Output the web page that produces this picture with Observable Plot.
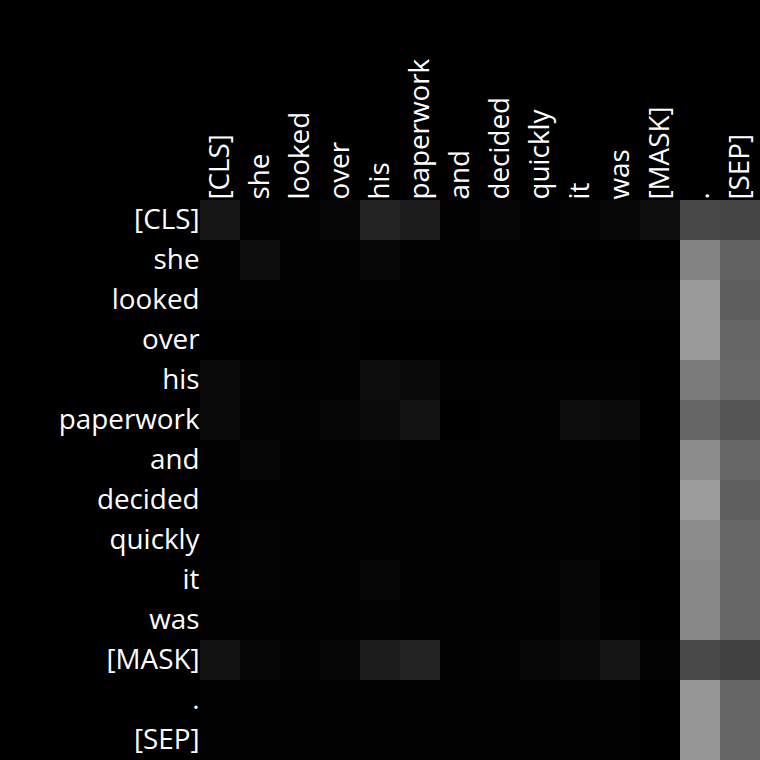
<!DOCTYPE html>
<html>
<head>
<meta charset="utf-8">
<script src="https://cdn.jsdelivr.net/npm/d3@7"></script>
<script src="https://cdn.jsdelivr.net/npm/@observablehq/plot@0.6"></script>
<style>
  html, body { margin: 0; padding: 0; background: #000; }
  #chart svg { display: block; }
</style>
</head>
<body>
<div id="chart"></div>
<script>
const tokens = ["[CLS]", "she", "looked", "over", "his", "paperwork", "and", "decided", "quickly", "it", "was", "[MASK]", ".", "[SEP]"];

const rowCLS       = [0.086, 0.008, 0.012, 0.020, 0.133, 0.106, 0.004, 0.020, 0.008, 0.016, 0.027, 0.055, 0.282, 0.271];
const rowShe       = [0.004, 0.047, 0.008, 0.004, 0.027, 0.004, 0.008, 0.004, 0.004, 0.000, 0.000, 0.000, 0.514, 0.384];
const rowLooked    = [0.004, 0.004, 0.004, 0.004, 0.004, 0.004, 0.004, 0.008, 0.004, 0.004, 0.004, 0.004, 0.604, 0.369];
const rowOver      = [0.000, 0.000, 0.000, 0.004, 0.000, 0.000, 0.000, 0.000, 0.000, 0.000, 0.000, 0.000, 0.604, 0.400];
const rowHis       = [0.035, 0.016, 0.004, 0.004, 0.047, 0.035, 0.004, 0.004, 0.008, 0.008, 0.008, 0.000, 0.478, 0.408];
const rowPaperwork = [0.039, 0.012, 0.012, 0.024, 0.043, 0.075, 0.000, 0.008, 0.008, 0.051, 0.043, 0.000, 0.400, 0.333];
const rowAnd       = [0.008, 0.020, 0.008, 0.004, 0.016, 0.008, 0.004, 0.004, 0.004, 0.004, 0.004, 0.000, 0.553, 0.404];
const rowDecided   = [0.004, 0.008, 0.004, 0.004, 0.004, 0.004, 0.004, 0.008, 0.004, 0.004, 0.004, 0.000, 0.608, 0.373];
const rowQuickly   = [0.004, 0.016, 0.004, 0.004, 0.008, 0.004, 0.004, 0.004, 0.004, 0.004, 0.004, 0.000, 0.553, 0.404];
const rowIt        = [0.012, 0.016, 0.004, 0.004, 0.024, 0.008, 0.004, 0.004, 0.012, 0.020, 0.000, 0.000, 0.533, 0.404];
const rowWas       = [0.008, 0.008, 0.004, 0.004, 0.012, 0.004, 0.004, 0.004, 0.008, 0.020, 0.004, 0.000, 0.533, 0.404];
const rowMask      = [0.071, 0.024, 0.012, 0.024, 0.106, 0.133, 0.008, 0.012, 0.027, 0.043, 0.082, 0.012, 0.286, 0.255];
const rowPeriod    = [0.004, 0.004, 0.004, 0.004, 0.008, 0.004, 0.004, 0.004, 0.004, 0.004, 0.004, 0.000, 0.588, 0.400];
const rowSEP       = [0.004, 0.004, 0.004, 0.004, 0.008, 0.004, 0.004, 0.004, 0.004, 0.004, 0.004, 0.000, 0.588, 0.400];

const rows = [rowCLS, rowShe, rowLooked, rowOver, rowHis, rowPaperwork, rowAnd, rowDecided, rowQuickly, rowIt, rowWas, rowMask, rowPeriod, rowSEP];

const cells = [];
rows.forEach((r, i) => r.forEach((v, j) => cells.push({from: tokens[i], to: tokens[j], w: v})));

const fontSize = 27.8;

const chart = Plot.plot({
  width: 760,
  height: 760,
  marginLeft: 200,
  marginTop: 200,
  marginRight: 0,
  marginBottom: 0,
  style: {background: "black", color: "white", fontFamily: "'Open Sans', 'Noto Sans', sans-serif"},
  x: {domain: tokens, padding: 0, axis: null},
  y: {domain: tokens, padding: 0, axis: null},
  color: {type: "linear", domain: [0, 1], range: ["black", "white"], interpolate: "rgb"},
  marks: [
    Plot.cell(cells, {x: "to", y: "from", fill: "w", inset: 0}),
    Plot.axisY({anchor: "left", tickSize: 0, tickPadding: 1, fontSize: fontSize, fill: "white", label: null}),
    Plot.axisX({anchor: "top", tickSize: 0, tickPadding: 1, tickRotate: -90, fontSize: fontSize, fill: "white", label: null})
  ]
});

document.getElementById("chart").append(chart);
</script>
</body>
</html>
